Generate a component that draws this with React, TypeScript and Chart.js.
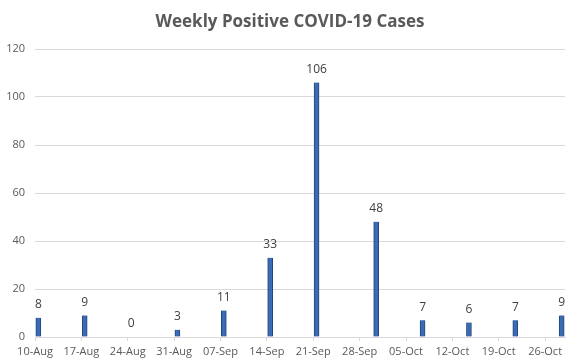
import { useEffect, useRef } from 'react';
import { Chart, registerables } from 'chart.js';

Chart.register(...registerables);

const TITLE = 'Weekly Positive COVID-19 Cases';
const startDate = '2020-08-10';
const tickLabels = ['10-Aug', '17-Aug', '24-Aug', '31-Aug', '07-Sep', '14-Sep', '21-Sep', '28-Sep', '05-Oct', '12-Oct', '19-Oct', '26-Oct'];
const reportDates = ['2020-08-10', '2020-08-17', '2020-08-24', '2020-08-31', '2020-09-07', '2020-09-14', '2020-09-21', '2020-09-30', '2020-10-07', '2020-10-14', '2020-10-21', '2020-10-28'];
const cases = [8, 9, 0, 3, 11, 33, 106, 48, 7, 6, 7, 9];
const yMax = 120;
const yStep = 20;

const TEXT = '#595959';
const LABEL = '#404040';
const GRID = '#d9d9d9';
const FONT = "'Open Sans', 'Liberation Sans', sans-serif";

export default function App() {
  const ref = useRef<HTMLCanvasElement>(null);

  useEffect(() => {
    document.body.style.margin = '0';
    const dayMs = 86400000;
    const t0 = Date.parse(startDate + 'T00:00:00Z');
    const days = reportDates.map((d) => Math.round((Date.parse(d + 'T00:00:00Z') - t0) / dayMs));
    const points = days.map((x, i) => ({ x, y: cases[i] }));
    const lastDay = days[days.length - 1];

    const labelPlugin = {
      id: 'valueLabels',
      afterDatasetsDraw(chart: any) {
        const { ctx } = chart;
        const meta = chart.getDatasetMeta(0);
        ctx.save();
        ctx.font = `12px ${FONT}`;
        ctx.fillStyle = LABEL;
        ctx.textAlign = 'center';
        ctx.textBaseline = 'middle';
        meta.data.forEach((el: any, i: number) => {
          ctx.fillText(String(cases[i]), el.x, el.y - 13);
        });
        ctx.restore();
      },
    };

    const titlePlugin = {
      id: 'customTitle',
      afterDraw(chart: any) {
        const { ctx } = chart;
        ctx.save();
        ctx.font = `bold 17px ${FONT}`;
        ctx.fillStyle = TEXT;
        ctx.textAlign = 'center';
        ctx.textBaseline = 'middle';
        ctx.fillText(TITLE, 290, 22);
        ctx.restore();
      },
    };

    const chart = new Chart(ref.current!, {
      type: 'bar',
      data: {
        datasets: [
          {
            data: points,
            backgroundColor: '#3B6BB2',
            borderColor: '#21457F',
            borderWidth: { left: 1, right: 1, top: 0, bottom: 0 },
            borderSkipped: false,
            barThickness: 5,
          },
        ],
      },
      options: {
        animation: false,
        responsive: false,
        layout: { padding: { top: 49, right: 12, left: 0, bottom: 0 } },
        plugins: {
          legend: { display: false },
          tooltip: { enabled: false },
          title: { display: false },
        },
        scales: {
          x: {
            type: 'linear',
            offset: false,
            min: -0.5,
            max: lastDay + 0.5,
            afterBuildTicks: (s: any) => {
              s.ticks = tickLabels.map((_, i) => ({ value: i * 7 - 0.5 }));
            },
            ticks: {
              callback: (_v: any, i: number) => tickLabels[i],
              autoSkip: false,
              maxRotation: 0,
              minRotation: 0,
              color: TEXT,
              font: { family: FONT, size: 11 },
              padding: 4,
            },
            grid: { drawOnChartArea: false, offset: false, color: GRID, tickLength: 4 },
            border: { color: GRID },
            afterFit: (s: any) => {
              s.height = 27;
            },
          },
          y: {
            min: 0,
            max: yMax,
            ticks: {
              stepSize: yStep,
              color: TEXT,
              font: { family: FONT, size: 11 },
              padding: 10,
            },
            grid: { color: GRID, drawTicks: false },
            border: { display: false },
            afterFit: (s: any) => {
              s.width = 35;
            },
          },
        },
      },
      plugins: [labelPlugin, titlePlugin],
    });

    return () => chart.destroy();
  }, []);

  return (
    <div style={{ width: 577, height: 364 }}>
      <canvas ref={ref} width={577} height={364} style={{ display: 'block' }} />
    </div>
  );
}
